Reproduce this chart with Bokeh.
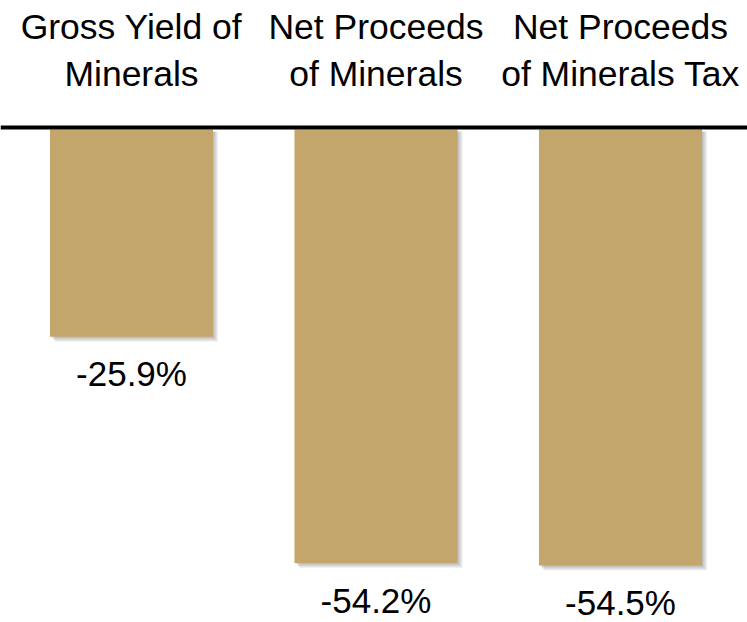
from bokeh.plotting import figure
from bokeh.models import ColumnDataSource, Span, Range1d
from bokeh.core.properties import value
from bokeh.embed import file_html
from bokeh.resources import INLINE

# ---- data ----
categories = ["Gross Yield of\nMinerals", "Net Proceeds\nof Minerals", "Net Proceeds\nof Minerals Tax"]
changes = [-25.9, -54.2, -54.5]
labels = ["-25.9%", "-54.2%", "-54.5%"]

# ---- layout constants ----
W, H = 747, 622
PX_PER_Y = 8.0          # pixels per percentage point
ZERO_PX = 129           # y=0 located this many px below figure top
PX_PER_X = 244.5
X0_PX = 131
BAR_W = 0.667
BAR_COLOR = "#C3A66B"
FONT = "Liberation Sans"
TXT_SHIFT = 13          # compensation for text baseline placement

x_start = -X0_PX / PX_PER_X
x_end = (W - X0_PX) / PX_PER_X
y_top = ZERO_PX / PX_PER_Y
y_bot = -(H - ZERO_PX) / PX_PER_Y

p = figure(width=W, height=H, output_backend="svg", toolbar_location=None,
           x_range=Range1d(x_start, x_end), y_range=Range1d(y_bot, y_top),
           min_border=0, outline_line_color=None)
p.axis.visible = False
p.grid.visible = False
p.background_fill_color = "white"
p.border_fill_color = "white"

xs = list(range(len(categories)))
src = ColumnDataSource(dict(
    x=xs,
    left=[x - BAR_W / 2 for x in xs],
    right=[x + BAR_W / 2 for x in xs],
    top=[0] * len(xs),
    bottom=changes,
    label=labels,
    line1=[c.split("\n")[0] for c in categories],
    line2=[c.split("\n")[1] for c in categories],
))

# soft shadow (layered)
for k in range(1, 6):
    dx = k / PX_PER_X
    dy = k / PX_PER_Y
    p.quad(left=[l + dx for l in src.data["left"]], right=[r + dx for r in src.data["right"]],
           top=[t - 2 / PX_PER_Y for t in src.data["top"]],
           bottom=[b - dy for b in src.data["bottom"]],
           fill_color="#555555", fill_alpha=0.09, line_color=None)

p.quad(left="left", right="right", top="top", bottom="bottom", source=src,
       fill_color=BAR_COLOR, line_color=None)

p.add_layout(Span(location=2 / PX_PER_Y, dimension="width", line_color="black", line_width=4))

# value labels under the bars
p.text(x="x", y="bottom", text="label", source=src, y_offset=50 - TXT_SHIFT,
       text_align="center", text_baseline="alphabetic",
       text_font=value(FONT), text_font_size="35px", text_color="black")

# category titles above the axis
p.text(x="x", y=(ZERO_PX - 39 + TXT_SHIFT) / PX_PER_Y, text="line1", source=src,
       text_align="center", text_baseline="alphabetic",
       text_font=value(FONT), text_font_size="35.5px", text_color="black")
p.text(x="x", y=(ZERO_PX - 86 + TXT_SHIFT) / PX_PER_Y, text="line2", source=src,
       text_align="center", text_baseline="alphabetic",
       text_font=value(FONT), text_font_size="35.5px", text_color="black")

open("out.html", "w").write(file_html(p, INLINE))
